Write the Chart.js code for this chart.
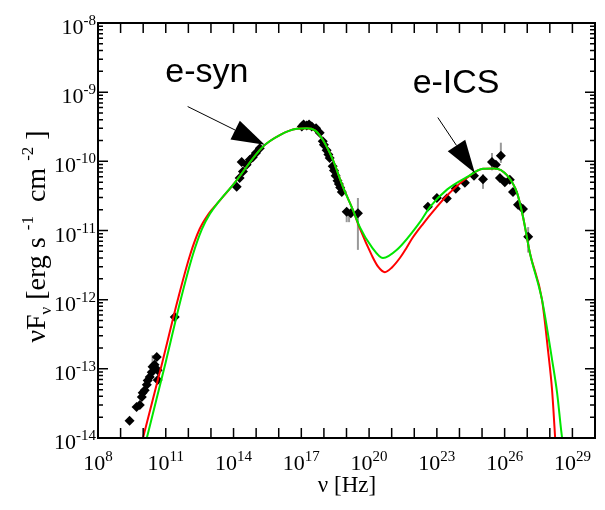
<!DOCTYPE html>
<html>
<head>
<meta charset="utf-8">
<script src="https://cdn.jsdelivr.net/npm/chart.js@4.4.1/dist/chart.umd.min.js"></script>
<style>
  html, body { margin: 0; padding: 0; background: #fff; }
  #wrap { width: 605px; height: 510px; }
</style>
</head>
<body>
<div id="wrap"><canvas id="sed" width="605" height="510"></canvas></div>
<script>
// model 1 (green) - nu [Hz] / nuFnu [erg s^-1 cm^-2]
const greenNu = [1.22e10, 1.45e10, 1.0e11, 4.57e11, 1.58e12, 3.98e12, 8.9e12, 2.0e13, 1.12e14, 1.95e15, 1.12e16, 6.3e16, 1.74e17, 4.0e17, 8.9e17, 2.5e18, 6.9e18, 1.9e19, 3.9e19, 1.32e20, 4.1e20, 1.7e21, 1.78e22, 5.0e22, 2.8e23, 2.1e24, 1.1e25, 3.7e25, 1.26e26, 3.55e26, 6.5e26, 1.32e27, 4.5e27, 1.26e28, 2.1e28, 3.5e28, 4.0e28];
const greenFlux = [7.9e-15, 1.0e-14, 1.26e-13, 1.0e-12, 4.47e-12, 1.05e-11, 1.74e-11, 2.5e-11, 4.9e-11, 1.62e-10, 2.4e-10, 2.95e-10, 3.0e-10, 2.8e-10, 2.05e-10, 1.05e-10, 4.3e-11, 2.0e-11, 1.12e-11, 5.75e-12, 4.0e-12, 5.25e-12, 1.32e-11, 2.2e-11, 3.9e-11, 5.9e-11, 7.8e-11, 7.9e-11, 6.3e-11, 3.5e-11, 1.58e-11, 4.7e-12, 1.0e-12, 1.35e-13, 4.5e-14, 1.0e-14, 8.0e-15];

// model 2 (red)
const redNu = [8.2e9, 9.8e9, 7.1e10, 3.4e11, 1.2e12, 3.16e12, 7.9e12, 2.0e13, 1.12e14, 1.95e15, 1.12e16, 6.3e16, 1.74e17, 4.0e17, 8.9e17, 2.5e18, 6.9e18, 1.9e19, 3.9e19, 1.32e20, 2.5e20, 5.0e20, 1.0e21, 2.3e21, 4.5e21, 7.9e21, 2.5e22, 7.9e22, 2.8e23, 2.1e24, 1.1e25, 3.7e25, 1.26e26, 3.55e26, 6.5e26, 1.32e27, 4.5e27, 8.3e27, 1.26e28, 1.8e28];
const redFlux = [7.9e-15, 1.0e-14, 1.26e-13, 1.0e-12, 4.47e-12, 1.05e-11, 1.74e-11, 2.5e-11, 4.9e-11, 1.62e-10, 2.4e-10, 2.95e-10, 3.0e-10, 2.8e-10, 2.05e-10, 1.05e-10, 4.3e-11, 2.0e-11, 1.07e-11, 4.37e-12, 3.0e-12, 2.5e-12, 2.9e-12, 4.0e-12, 5.6e-12, 7.6e-12, 1.26e-11, 2.0e-11, 3.2e-11, 5.75e-11, 7.8e-11, 7.9e-11, 6.3e-11, 3.5e-11, 1.58e-11, 4.7e-12, 1.0e-12, 1.86e-13, 4.9e-14, 7.9e-15];

// observed SED points
const obsNu = [
  2.5e9, 5.1e9, 7.1e9, 8.7e9, 9.5e9, 1.17e10, 1.45e10, 1.58e10, 1.95e10, 2.4e10, 2.6e10, 3.2e10, 4.0e10, 4.4e10, 4.4e10, 2.5e11,
  1.38e14, 1.86e14, 2.6e14, 2.3e14, 3.8e14, 5.25e14, 7.1e14, 9.8e14, 1.45e15,
  1.05e17, 1.26e17, 1.74e17, 2.2e17, 2.9e17, 4.5e17, 6.5e17, 8.9e17, 1.0e18, 1.32e18, 1.58e18, 1.8e18, 2.45e18, 2.8e18, 3.3e18, 4.0e18, 4.6e18, 5.25e18, 6.2e18, 1.02e19, 1.55e19, 3.2e19,
  4.0e22, 1.0e23, 2.75e23, 6.9e23, 1.74e24, 4.4e24, 1.1e25, 2.75e25, 4.1e25, 6.8e25, 6.2e25, 1.02e26, 1.7e26, 2.35e26, 3.9e26, 6.5e26, 1.1e27
];
const obsFlux = [
  1.78e-14, 2.8e-14, 3.0e-14, 3.9e-14, 4.5e-14, 4.9e-14, 5.9e-14, 6.8e-14, 7.6e-14, 8.9e-14, 1.07e-13, 1.15e-13, 1.48e-13, 9.5e-14, 6.9e-14, 5.6e-13,
  4.3e-11, 5.75e-11, 7.1e-11, 9.8e-11, 8.9e-11, 1.05e-10, 1.15e-10, 1.32e-10, 1.55e-10,
  3.2e-10, 3.4e-10, 3.3e-10, 3.4e-10, 3.2e-10, 3.0e-10, 2.6e-10, 1.95e-10, 1.74e-10, 1.45e-10, 1.26e-10, 1.12e-10, 8.5e-11, 7.4e-11, 6.2e-11, 5.25e-11, 4.7e-11, 4.2e-11, 3.6e-11, 1.86e-11, 1.78e-11, 1.78e-11,
  2.2e-11, 2.95e-11, 2.9e-11, 4.0e-11, 4.9e-11, 6.2e-11, 5.5e-11, 9.8e-11, 8.9e-11, 1.2e-10, 5.75e-11, 5.0e-11, 5.4e-11, 3.6e-11, 2.35e-11, 2.05e-11, 8.1e-12
];

// vertical error bars
const errNu = [2.6e10, 1.02e19, 1.3e19, 3.2e19, 1.1e25, 2.75e25, 6.8e25, 1.1e27];
const errLo = [9.5e-14, 1.32e-11, 1.32e-11, 5.25e-12, 4.0e-11, 7.4e-11, 9.5e-11, 4.8e-12];
const errHi = [1.58e-13, 1.9e-11, 1.9e-11, 2.95e-11, 6.5e-11, 1.32e-10, 1.86e-10, 1.12e-11];

// axis ticks (powers of ten)
const xTickExp = [8, 11, 14, 17, 20, 23, 26, 29];
const yTickExp = [-14, -13, -12, -11, -10, -9, -8];

// annotations: label anchor, arrow tail and tip, in data coordinates
const notes = [
  { text: 'e-syn', at: [6.6e12, 1.4e-9], from: [9.3e11, 6.2e-10], to: [2.4e15, 1.74e-10] },
  { text: 'e-ICS', at: [7.1e23, 9.8e-10], from: [1.1e23, 4.3e-10], to: [4.8e24, 6.8e-11] }
];

const toXY = (xs, ys) => xs.map((x, i) => ({ x, y: ys[i] }));
const SERIF = '"Liberation Serif", "DejaVu Serif", serif';

function drawPow(ctx, exp, x, y, align) {
  // "10" with a superscript exponent; align 'center' or 'right'
  ctx.font = '22px ' + SERIF;
  const wBase = ctx.measureText('10').width;
  ctx.font = '15px ' + SERIF;
  const sup = String(exp);
  const wSup = ctx.measureText(sup).width;
  const total = wBase + wSup;
  const left = align === 'right' ? x - total : x - total / 2;
  ctx.textAlign = 'left';
  ctx.textBaseline = 'alphabetic';
  ctx.font = '22px ' + SERIF;
  ctx.fillText('10', left, y);
  ctx.font = '15px ' + SERIF;
  ctx.fillText(sup, left + wBase, y - 9);
}

const sedDecor = {
  id: 'sedDecor',
  beforeDatasetsDraw(chart) {
    const { ctx, scales: { x, y } } = chart;
    ctx.save();
    ctx.strokeStyle = '#999';
    ctx.lineWidth = 2;
    errNu.forEach((nu, i) => {
      const px = x.getPixelForValue(nu);
      ctx.beginPath();
      ctx.moveTo(px, y.getPixelForValue(errLo[i]));
      ctx.lineTo(px, y.getPixelForValue(errHi[i]));
      ctx.stroke();
    });
    ctx.restore();
  },
  afterDraw(chart) {
    const { ctx, chartArea: a, scales: { x, y } } = chart;
    ctx.save();
    ctx.fillStyle = '#000';
    ctx.strokeStyle = '#000';

    // frame
    ctx.lineWidth = 2;
    ctx.strokeRect(a.left, a.top, a.right - a.left, a.bottom - a.top);

    // x ticks: one per decade, inward, on bottom and top
    ctx.lineWidth = 1.5;
    ctx.beginPath();
    for (let e = 9; e < 30; e++) {
      const px = x.getPixelForValue(Math.pow(10, e));
      ctx.moveTo(px, a.bottom); ctx.lineTo(px, a.bottom - 10);
      ctx.moveTo(px, a.top); ctx.lineTo(px, a.top + 10);
    }
    // y ticks: decades plus minor 2..9
    for (let e = -14; e < -8; e++) {
      for (let m = 1; m <= 9; m++) {
        const py = y.getPixelForValue(m * Math.pow(10, e));
        const len = m === 1 ? 10 : 5;
        ctx.moveTo(a.left, py); ctx.lineTo(a.left + len, py);
        ctx.moveTo(a.right, py); ctx.lineTo(a.right - len, py);
      }
    }
    ctx.stroke();

    // tick labels
    xTickExp.forEach(e => drawPow(ctx, e, x.getPixelForValue(Math.pow(10, e)), a.bottom + 32, 'center'));
    yTickExp.forEach(e => drawPow(ctx, e, a.left - 2, y.getPixelForValue(Math.pow(10, e)) + 11, 'right'));

    // x title
    ctx.font = '23px ' + SERIF;
    ctx.textAlign = 'center';
    ctx.fillText('\u03bd [Hz]', 347, 492);

    // y title, rotated
    const parts = [
      ['\u03bd', 28, 0], ['F', 28, 0], ['\u03bd', 17, 6], [' [erg s ', 28, 0], ['-1', 17, -12],
      ['  cm ', 28, 0], ['-2', 17, -12], [' ]', 28, 0]
    ];
    let total = 0;
    parts.forEach(p => { ctx.font = p[1] + 'px ' + SERIF; total += ctx.measureText(p[0]).width; });
    ctx.translate(45, (a.top + a.bottom) / 2 + 6);
    ctx.rotate(-Math.PI / 2);
    ctx.textAlign = 'left';
    let cx = -total / 2;
    parts.forEach(p => {
      ctx.font = p[1] + 'px ' + SERIF;
      ctx.fillText(p[0], cx, p[2]);
      cx += ctx.measureText(p[0]).width;
    });
    ctx.restore();

    // annotations with arrows
    ctx.save();
    notes.forEach(n => {
      ctx.fillStyle = '#000';
      ctx.strokeStyle = '#000';
      ctx.font = '34px "Liberation Sans", Arial, sans-serif';
      ctx.textAlign = 'center';
      ctx.textBaseline = 'alphabetic';
      ctx.fillText(n.text, x.getPixelForValue(n.at[0]), y.getPixelForValue(n.at[1]));

      const x0 = x.getPixelForValue(n.from[0]), y0 = y.getPixelForValue(n.from[1]);
      const x1 = x.getPixelForValue(n.to[0]), y1 = y.getPixelForValue(n.to[1]);
      const ang = Math.atan2(y1 - y0, x1 - x0);
      const headLen = 33, headW = 10.5;
      const bx = x1 - headLen * Math.cos(ang), by = y1 - headLen * Math.sin(ang);
      ctx.lineWidth = 1;
      ctx.beginPath();
      ctx.moveTo(x0, y0);
      ctx.lineTo(bx, by);
      ctx.stroke();
      ctx.beginPath();
      ctx.moveTo(x1, y1);
      ctx.lineTo(bx + headW * Math.sin(ang), by - headW * Math.cos(ang));
      ctx.lineTo(bx - headW * Math.sin(ang), by + headW * Math.cos(ang));
      ctx.closePath();
      ctx.fill();
    });
    ctx.restore();
  }
};

new Chart(document.getElementById('sed'), {
  type: 'scatter',
  data: {
    datasets: [
      {
        label: 'model green',
        data: toXY(greenNu, greenFlux),
        showLine: true,
        borderColor: '#00e600',
        borderWidth: 2,
        pointRadius: 0,
        cubicInterpolationMode: 'monotone',
        order: 0
      },
      {
        label: 'model red',
        data: toXY(redNu, redFlux),
        showLine: true,
        borderColor: '#ff0000',
        borderWidth: 2,
        pointRadius: 0,
        cubicInterpolationMode: 'monotone',
        order: 1
      },
      {
        label: 'data',
        data: toXY(obsNu, obsFlux),
        pointStyle: 'rectRot',
        pointRadius: 5,
        backgroundColor: '#000',
        borderColor: '#000',
        borderWidth: 0,
        order: 2
      }
    ]
  },
  options: {
    responsive: false,
    animation: false,
    layout: { padding: { left: 98, top: 23, right: 10, bottom: 72 } },
    scales: {
      x: { type: 'logarithmic', min: 1e8, max: 1e30, display: false },
      y: { type: 'logarithmic', min: 1e-14, max: 1e-8, display: false }
    },
    plugins: { legend: { display: false }, tooltip: { enabled: false } }
  },
  plugins: [sedDecor]
});
</script>
</body>
</html>
